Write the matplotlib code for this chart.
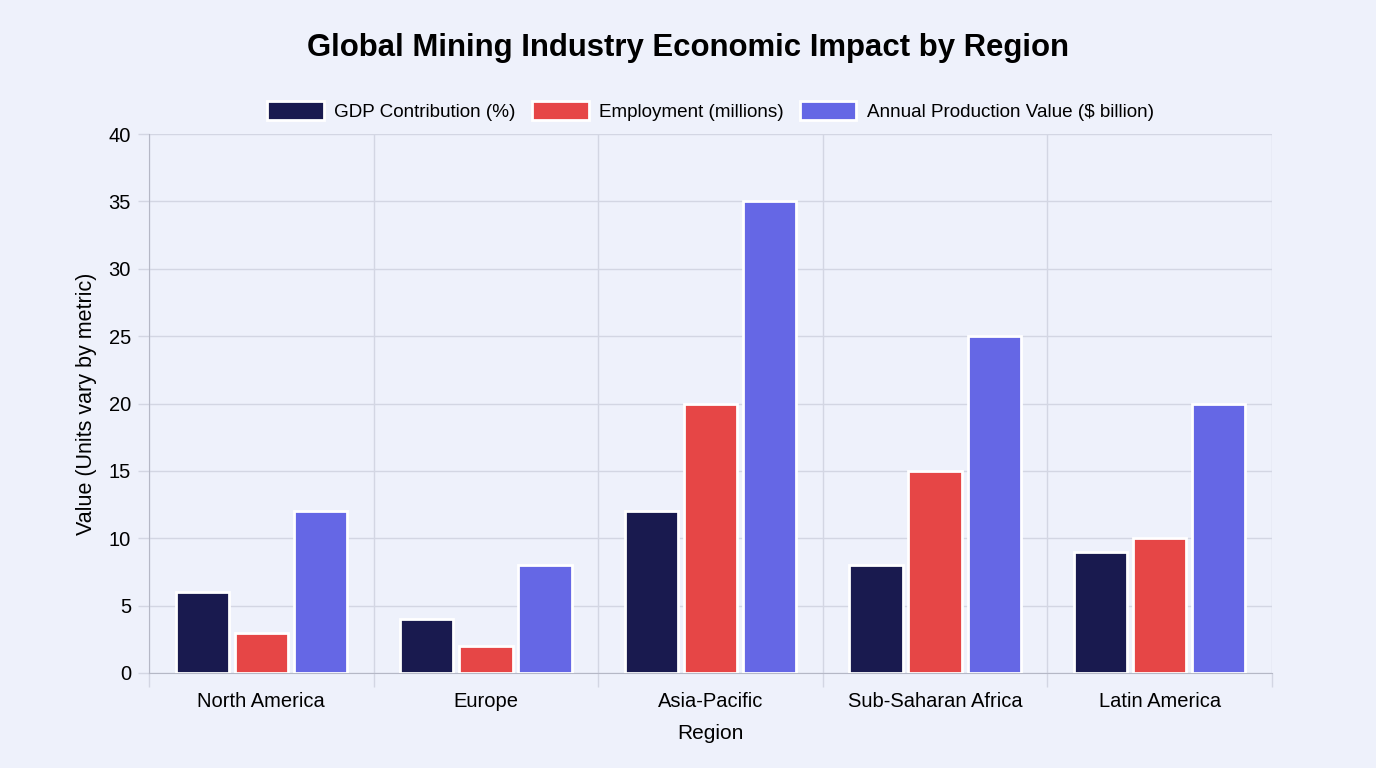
import numpy as np
import matplotlib.pyplot as plt
from matplotlib.ticker import FixedLocator

plt.rcParams["font.family"] = ["Liberation Sans", "DejaVu Sans"]

# Data
regions = ["North America", "Europe", "Asia-Pacific", "Sub-Saharan Africa", "Latin America"]
gdp_contribution = [6, 4, 12, 8, 9]
employment = [3, 2, 20, 15, 10]
production_value = [12, 8, 35, 25, 20]

series_labels = ["GDP Contribution (%)", "Employment (millions)", "Annual Production Value ($ billion)"]
colors = ["#191a4f", "#e64646", "#6567e5"]
bg = "#eef1fb"
grid_color = "#d3d6e3"

fig = plt.figure(figsize=(13.76, 7.68), dpi=100, facecolor=bg)
ax = fig.add_axes([0.1083, 0.1237, 0.8161, 0.7018], facecolor=bg)

x = np.arange(len(regions))
slot = 0.263
for i, (vals, lab, col) in enumerate(zip([gdp_contribution, employment, production_value], series_labels, colors)):
    ax.bar(x + (i - 1) * slot, vals, width=0.237, color=col, edgecolor="white",
           linewidth=2, label=lab, zorder=3)

ax.set_xlim(-0.5, len(regions) - 0.5)
ax.set_ylim(0, 40)
ax.set_yticks(np.arange(0, 41, 5))
ax.set_xticks(x)
ax.set_xticklabels(regions, fontsize=14.5)
ax.xaxis.set_minor_locator(FixedLocator(np.arange(-0.5, len(regions), 1.0)))
ax.tick_params(axis="x", which="major", length=0, pad=14)
ax.tick_params(axis="x", which="minor", length=10, color=grid_color, width=1)
ax.tick_params(axis="y", labelsize=14.5, length=8, color=grid_color, width=1, pad=5)

ax.grid(axis="y", which="major", color=grid_color, linewidth=1, zorder=0)
ax.grid(axis="x", which="minor", color=grid_color, linewidth=1, zorder=0)
for s in ["top", "right"]:
    ax.spines[s].set_visible(False)
ax.spines["left"].set_color("#b5b8c6")
ax.spines["bottom"].set_color("#b5b8c6")

ax.set_xlabel("Region", fontsize=15, labelpad=9)
ax.set_ylabel("Value (Units vary by metric)", fontsize=15.5, labelpad=8)

fig.suptitle("Global Mining Industry Economic Impact by Region", fontsize=22.4,
             fontweight="bold", y=0.957)

ax.legend(loc="lower center", bbox_to_anchor=(0.5, 1.0), ncol=3, frameon=False,
          fontsize=13.6, handlelength=3.0, handleheight=1.15, columnspacing=0.85,
          handletextpad=0.55, borderaxespad=0.3)

fig.savefig("out.png", dpi=100, facecolor=bg)
